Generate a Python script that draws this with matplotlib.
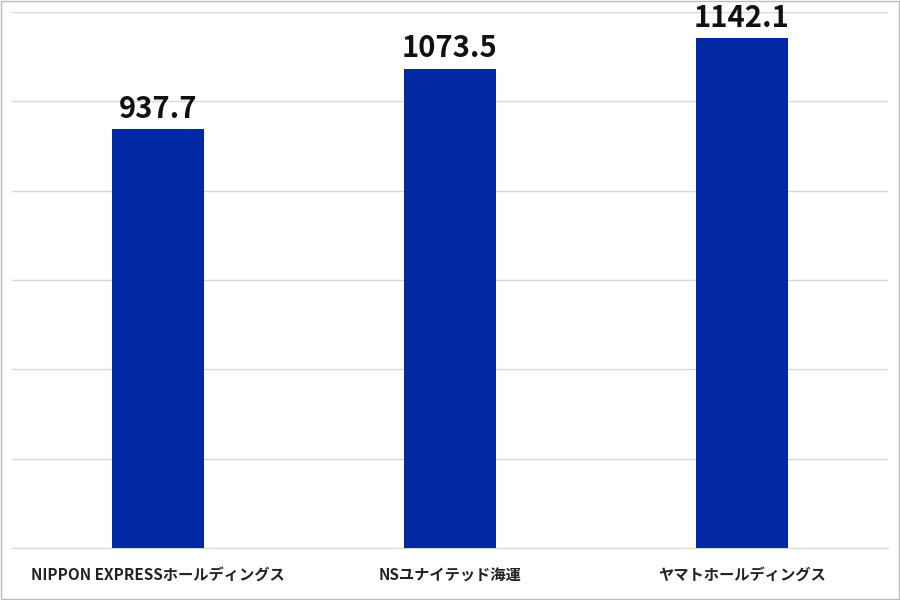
import matplotlib.pyplot as plt

plt.rcParams['font.family'] = ['Noto Sans CJK JP', 'DejaVu Sans']

companies = ['NIPPON EXPRESSホールディングス', 'NSユナイテッド海運', 'ヤマトホールディングス']
values = [937.7, 1073.5, 1142.1]

fig = plt.figure(figsize=(9, 6), dpi=100)
ax = fig.add_axes([12/900, 52/600, 876/900, 536/600])

x = range(len(companies))
ax.bar(x, values, width=0.315, color='#0328a3', zorder=3)
for i, v in zip(x, values):
    ax.text(i, v + 12, f'{v:.1f}', ha='center', va='bottom',
            fontsize=21, fontweight='bold', color='#111111', zorder=4)

ax.set_xlim(-0.5, 2.5)
ax.set_ylim(0, 1200)
ax.set_yticks(range(0, 1201, 200))
ax.set_yticklabels([])
ax.tick_params(axis='y', length=0)
ax.tick_params(axis='x', length=0, pad=14)
ax.set_xticks(list(x))
ax.set_xticklabels(companies, fontsize=11, fontweight='bold', color='#222222')
ax.grid(axis='y', color='#d9d9d9', linewidth=1, zorder=0)
for s in ['top', 'right', 'left']:
    ax.spines[s].set_visible(False)
ax.spines['bottom'].set_color('#d9d9d9')

fig.patches.append(plt.Rectangle((0.001, 0.001), 0.998, 0.998, transform=fig.transFigure,
                                 fill=False, edgecolor='#bbbbbb', linewidth=1))
fig.savefig('out.png', dpi=100)
